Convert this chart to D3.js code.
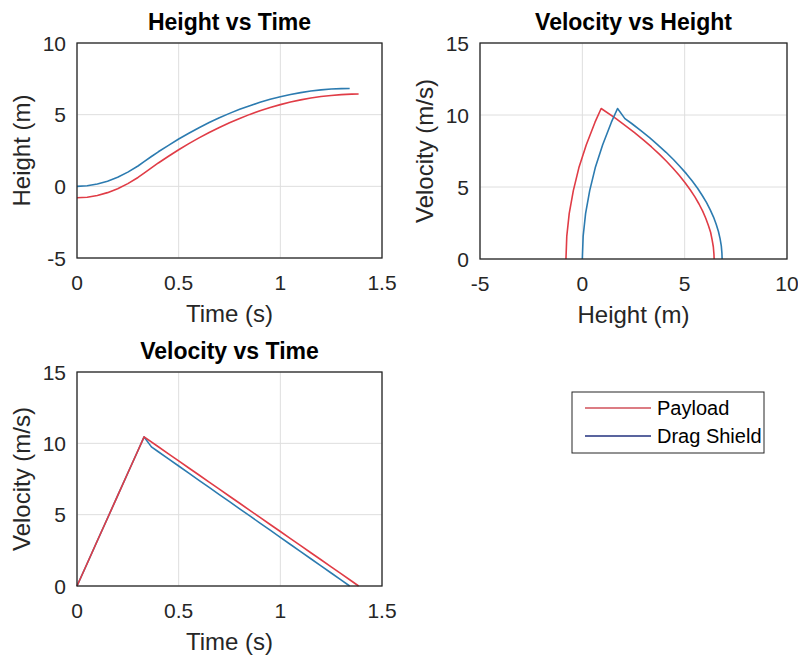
<!DOCTYPE html>
<html>
<head>
<meta charset="utf-8">
<script src="https://cdn.jsdelivr.net/npm/d3@7"></script>
<style>
  body { margin: 0; background: #fff; }
  text { font-family: "Liberation Sans", Arial, sans-serif; }
</style>
</head>
<body>
<div id="content"></div>
<script>
// values
var seriesNames = ['Payload', 'Drag Shield']

var payloadTime     = [0, 0.05, 0.10, 0.15, 0.20, 0.25, 0.30, 0.33, 0.40, 0.45, 0.50, 0.55, 0.60, 0.65, 0.70, 0.75, 0.80, 0.85, 0.90, 0.95, 1.00, 1.05, 1.10, 1.15, 1.20, 1.25, 1.30, 1.35, 1.385]
var payloadHeight   = [-0.80, -0.76, -0.64, -0.44, -0.17, 0.19, 0.62, 0.92, 1.63, 2.10, 2.55, 2.98, 3.38, 3.76, 4.11, 4.44, 4.74, 5.02, 5.27, 5.50, 5.70, 5.88, 6.03, 6.16, 6.27, 6.34, 6.40, 6.43, 6.44]
var payloadVelocity = [0, 1.58, 3.17, 4.75, 6.33, 7.92, 9.50, 10.45, 9.76, 9.26, 8.77, 8.27, 7.78, 7.28, 6.79, 6.29, 5.80, 5.30, 4.81, 4.31, 3.82, 3.32, 2.83, 2.33, 1.84, 1.34, 0.85, 0.35, 0]

var shieldTime     = [0, 0.05, 0.10, 0.15, 0.20, 0.25, 0.30, 0.33, 0.366, 0.40, 0.45, 0.50, 0.55, 0.60, 0.65, 0.70, 0.75, 0.80, 0.85, 0.90, 0.95, 1.00, 1.05, 1.10, 1.15, 1.20, 1.25, 1.30, 1.341]
var shieldHeight   = [0, 0.04, 0.16, 0.36, 0.63, 0.99, 1.42, 1.72, 2.08, 2.41, 2.86, 3.30, 3.70, 4.09, 4.45, 4.78, 5.09, 5.37, 5.63, 5.86, 6.07, 6.25, 6.41, 6.54, 6.65, 6.73, 6.79, 6.82, 6.83]
var shieldVelocity = [0, 1.58, 3.17, 4.75, 6.33, 7.92, 9.50, 10.45, 9.75, 9.41, 8.91, 8.41, 7.91, 7.41, 6.91, 6.41, 5.91, 5.41, 4.91, 4.41, 3.91, 3.41, 2.91, 2.41, 1.91, 1.41, 0.91, 0.41, 0]

var timeTicks = [0, 0.5, 1, 1.5]
var heightTicks = [-5, 0, 5, 10]
var velocityTicks = [0, 5, 10, 15]

var lineColors = ['#e03c46', '#2c7bb0']
var legendColors = ['#d0505a', '#22307e']

var svg = d3.select("#content").append("svg")
  .attr("width", 798)
  .attr("height", 659)

// draws one MATLAB-style subplot frame, returns scales and a layer for data
drawAxes = function(box, xTicks, yTicks, title, xLabel, yLabel) {
  var x = d3.scaleLinear().domain(d3.extent(xTicks)).range([box.left, box.right])
  var y = d3.scaleLinear().domain(d3.extent(yTicks)).range([box.bottom, box.top])
  var g = svg.append("g")

  // grid
  g.selectAll(".vgrid").data(xTicks).enter().append("line")
    .attr("x1", d => x(d)).attr("x2", d => x(d))
    .attr("y1", box.top).attr("y2", box.bottom)
    .attr("stroke", "#dedede").attr("stroke-width", 1)
  g.selectAll(".hgrid").data(yTicks).enter().append("line")
    .attr("x1", box.left).attr("x2", box.right)
    .attr("y1", d => y(d)).attr("y2", d => y(d))
    .attr("stroke", "#dedede").attr("stroke-width", 1)

  var dataLayer = g.append("g")

  // box
  g.append("rect")
    .attr("x", box.left).attr("y", box.top)
    .attr("width", box.right - box.left).attr("height", box.bottom - box.top)
    .attr("fill", "none").attr("stroke", "#262626").attr("stroke-width", 1.3)

  // tick labels
  g.selectAll(".xtl").data(xTicks).enter().append("text")
    .attr("x", d => x(d)).attr("y", box.bottom + 32)
    .attr("text-anchor", "middle").attr("fill", "#262626")
    .style("font-size", "21px")
    .text(d => d)
  g.selectAll(".ytl").data(yTicks).enter().append("text")
    .attr("x", box.left - 11).attr("y", d => y(d))
    .attr("dy", "0.36em")
    .attr("text-anchor", "end").attr("fill", "#262626")
    .style("font-size", "21px")
    .text(d => d)

  // title and axis labels
  g.append("text")
    .attr("x", (box.left + box.right) / 2).attr("y", box.top - 13)
    .attr("text-anchor", "middle").attr("fill", "#000")
    .style("font-size", "23px").style("font-weight", "bold")
    .text(title)
  g.append("text")
    .attr("x", (box.left + box.right) / 2).attr("y", box.bottom + 64)
    .attr("text-anchor", "middle").attr("fill", "#262626")
    .style("font-size", "24px")
    .text(xLabel)
  g.append("text")
    .attr("transform", "translate(" + (box.left - 47) + "," + ((box.top + box.bottom) / 2) + ") rotate(-90)")
    .attr("text-anchor", "middle").attr("fill", "#262626")
    .style("font-size", "24px")
    .text(yLabel)

  return {x: x, y: y, layer: dataLayer}
}

addLine = function(ax, xs, ys, color) {
  var line = d3.line()
    .x((d, i) => ax.x(xs[i]))
    .y((d, i) => ax.y(ys[i]))
  ax.layer.append("path")
    .datum(xs)
    .attr("d", line)
    .attr("fill", "none")
    .attr("stroke", color)
    .attr("stroke-width", 1.6)
    .attr("stroke-linejoin", "round")
}

// Height vs Time
var ax1 = drawAxes({left: 77, right: 382, top: 43, bottom: 258}, timeTicks, heightTicks,
  'Height vs Time', 'Time (s)', 'Height (m)')
addLine(ax1, payloadTime, payloadHeight, lineColors[0])
addLine(ax1, shieldTime, shieldHeight, lineColors[1])

// Velocity vs Height
var ax2 = drawAxes({left: 480, right: 787, top: 43, bottom: 259}, heightTicks, velocityTicks,
  'Velocity vs Height', 'Height (m)', 'Velocity (m/s)')
addLine(ax2, payloadHeight, payloadVelocity, lineColors[0])
addLine(ax2, shieldHeight, shieldVelocity, lineColors[1])

// Velocity vs Time
var ax3 = drawAxes({left: 77, right: 382, top: 372, bottom: 586}, timeTicks, velocityTicks,
  'Velocity vs Time', 'Time (s)', 'Velocity (m/s)')
addLine(ax3, shieldTime, shieldVelocity, lineColors[1])
addLine(ax3, payloadTime, payloadVelocity, lineColors[0])

// legend
var legend = svg.append("g")
legend.append("rect")
  .attr("x", 572).attr("y", 392).attr("width", 192).attr("height", 61)
  .attr("fill", "#fff").attr("stroke", "#262626").attr("stroke-width", 1)
for (i = 0; i < seriesNames.length; i++) {
  legend.append("line")
    .attr("x1", 585).attr("x2", 651)
    .attr("y1", 408 + i * 28).attr("y2", 408 + i * 28)
    .attr("stroke", legendColors[i]).attr("stroke-width", 1.4)
  legend.append("text")
    .attr("x", 657).attr("y", 408 + i * 28)
    .attr("dy", "0.36em")
    .attr("fill", "#000")
    .style("font-size", "20px")
    .text(seriesNames[i])
}
</script>
</body>
</html>
